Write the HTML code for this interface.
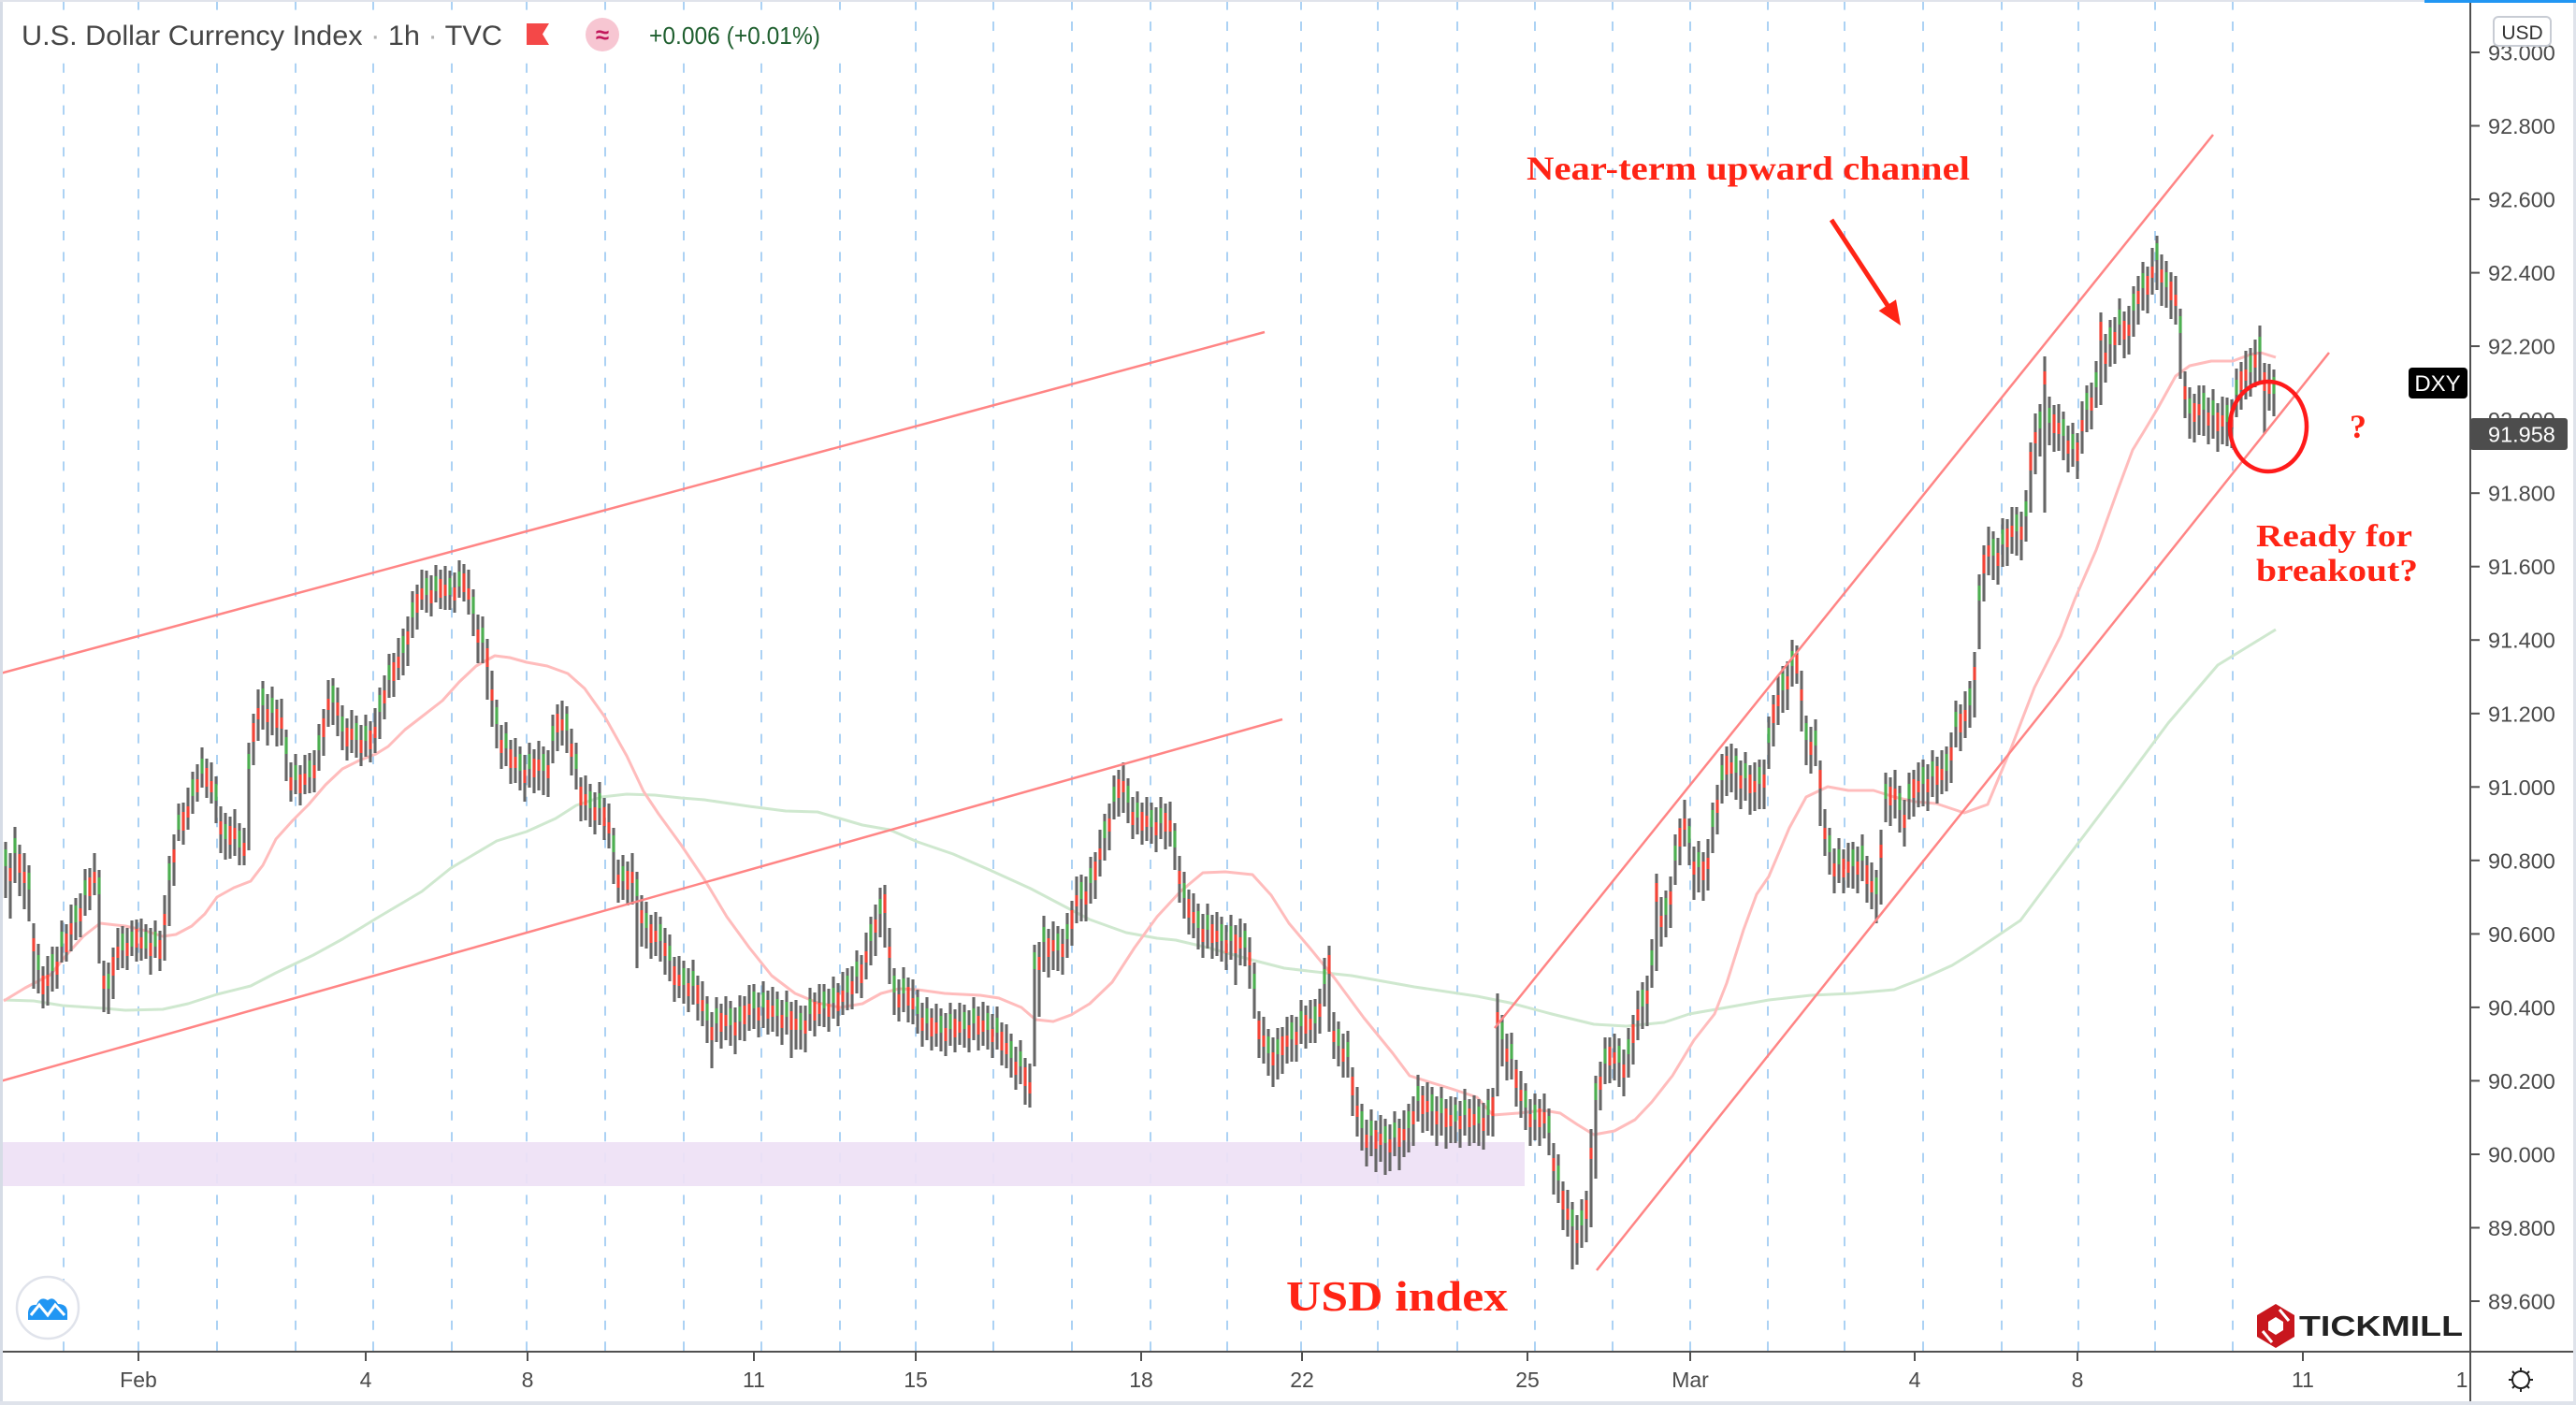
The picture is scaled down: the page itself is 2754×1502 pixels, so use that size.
<!DOCTYPE html>
<html><head><meta charset="utf-8">
<style>
html,body{margin:0;padding:0;background:#fff;width:2754px;height:1502px;overflow:hidden}
svg{display:block}
text{font-family:"Liberation Sans",Arial,sans-serif}
.sf{font-family:"Liberation Serif","Times New Roman",serif;font-weight:bold;fill:#ff2415}
.pl{font-size:23.5px;fill:#4a4a4a}
.tl{font-size:23px;fill:#4a4a4a;text-anchor:middle}
</style></head><body>
<svg width="2754" height="1502" viewBox="0 0 2754 1502" xmlns="http://www.w3.org/2000/svg" xmlns:xlink="http://www.w3.org/1999/xlink">
<defs>
<path id="b0" d="M6 900V960M31 925V985M56 1012V1060M81 960V1005M106 930V1030M131 990V1035M156 988V1025M181 915V990M206 825V870M231 830V880M256 880V925M281 728V780M306 780V835M331 805V848M356 725V775M381 765V810M406 735V790M431 672V722M456 610V655M481 610V652M506 630V680M531 748V800M556 798V845M581 798V850M606 755V805M631 838V884M656 885V945M681 932V1035M706 980V1028M731 1027V1073M756 1065V1115M781 1070V1118M806 1052V1100M831 1060V1108M856 1075V1122M881 1052V1098M906 1035V1080M931 980V1032M956 1035V1085M981 1058V1105M1006 1078V1124M1031 1074V1120M1056 1075V1122M1081 1105V1152M1106 1010V1140M1131 990V1038M1156 935V985M1181 870V920M1206 832V880M1231 858V902M1256 880V930M1281 966V1015M1306 980V1028M1331 987V1033M1356 1100V1150M1381 1085V1135M1406 1068V1115M1431 1092V1140M1456 1180V1230M1481 1196V1256M1506 1180V1232M1531 1162V1214M1556 1173V1222M1581 1175V1225M1606 1085V1140M1631 1158V1208M1656 1185V1235M1681 1285V1357M1706 1150V1260M1731 1110V1162M1756 1050V1100M1781 952V1002M1806 875V925M1831 858V912M1856 800V855M1881 812V865M1906 712V762M1931 765V818M1956 885V935M1981 900V950M2006 930V987M2031 840V890M2056 812V862M2081 798V846M2106 728V778M2131 568V620M2156 542V594M2181 432V488M2206 440V492M2231 412V462M2256 342V392M2281 306V360M2306 252V310M2331 330V405M2356 412V466M2381 425V477M2406 372V424M2431 395V445"/>
<path id="b1" d="M11 905V975M36 980V1050M61 1005V1050M86 948V995M111 1020V1075M136 985V1030M161 985V1035M186 885V940M211 810V850M236 855V905M261 878V918M286 735V790M311 808V850M336 795V840M361 728V780M386 768V812M411 715V762M436 652V705M461 608V652M486 605V648M511 650V702M536 768V815M561 800V850M586 795V845M611 772V822M636 840V885M661 912V958M686 950V1005M711 985V1035M736 1028V1075M761 1075V1135M786 1070V1120M811 1054V1102M836 1062V1110M861 1068V1118M886 1050V1096M911 1026V1072M936 960V1015M961 1040V1085M986 1065V1112M1011 1076V1122M1036 1073V1118M1061 1077V1124M1086 1112V1158M1111 1000V1080M1136 986V1035M1161 930V978M1186 852V902M1211 845V890M1236 856V904M1261 908V958M1286 970V1017M1311 982V1030M1336 995V1050M1361 1102V1155M1386 1080V1128M1411 1050V1098M1436 1098V1145M1461 1190V1240M1486 1195V1245M1511 1165V1218M1536 1165V1218M1561 1170V1220M1586 1172V1222M1611 1098V1148M1636 1168V1218M1661 1215V1270M1686 1292V1345M1711 1128V1180M1736 1115V1165M1761 1036V1090M1786 930V985M1811 898V955M1836 832V885M1861 806V858M1886 805V858M1911 700V752M1936 770V820M1961 900V948M1986 898V948M2011 880V960M2036 848V898M2061 810V860M2086 776V830M2111 690V760M2136 568V618M2161 540V592M2186 374V541M2211 448V498M2236 402V452M2261 332V382M2286 288V340M2311 265V320M2336 390V440M2361 418V468M2386 420V472M2411 356V407"/>
<path id="b2" d="M16 890V950M41 1015V1068M66 990V1035M91 935V985M116 1035V1090M141 990V1028M166 990V1030M191 865V905M216 805V848M241 875V925M266 800V915M291 740V792M316 812V855M341 780V830M366 760V808M391 770V815M416 705V752M441 638V688M466 610V650M491 605V645M516 665V715M541 778V825M566 800V848M591 770V822M616 800V850M641 842V888M666 920V968M691 970V1020M716 1005V1055M741 1032V1080M766 1072V1120M791 1070V1118M816 1055V1105M841 1065V1112M866 1062V1108M891 1050V1095M916 1022V1068M941 955V1008M966 1040V1088M991 1072V1118M1016 1078V1124M1041 1072V1118M1066 1082V1128M1091 1118V1165M1116 985V1045M1141 982V1030M1166 922V972M1191 835V882M1216 852V898M1241 858V903M1266 938V988M1291 972V1020M1316 984V1032M1341 1035V1095M1366 1105V1160M1391 1075V1122M1416 1030V1082M1441 1108V1158M1466 1192V1242M1491 1194V1242M1516 1155V1205M1541 1168V1220M1566 1170V1220M1591 1170V1220M1616 1110V1160M1641 1175V1225M1666 1240V1292M1691 1288V1340M1716 1115V1165M1741 1105V1158M1766 1010V1062M1791 898V952M1816 905V960M1841 812V865M1866 810V862M1891 772V828M1916 690V740M1941 775V825M1966 902V950M1991 898V948M2016 832V885M2041 832V882M2066 808V858M2091 755V805M2116 620V700M2141 560V612M2166 530V585M2191 430V482M2216 458V505M2241 392V442M2266 325V375M2291 286V338M2316 285V335M2341 420V475M2366 422V475M2391 400V452M2416 354V415"/>
<path id="b3" d="M21 900V955M46 1030V1075M71 985V1025M96 925V970M121 1010V1065M146 980V1025M171 992V1035M196 855V900M221 808V850M246 870V915M271 760V815M296 745V795M321 815V858M346 755V805M371 765V810M396 768V812M421 695V742M446 622V670M471 606V648M496 600V640M521 680V745M546 788V835M571 798V845M596 750V800M621 828V875M646 850V895M671 918V965M696 975V1022M721 1020V1068M746 1040V1088M771 1070V1118M796 1062V1110M821 1056V1103M846 1068V1128M871 1058V1105M896 1048V1094M921 1018V1064M946 943V1010M971 1042V1090M996 1075V1120M1021 1076V1122M1046 1073V1120M1071 1090V1136M1096 1128V1178M1121 990V1042M1146 960V1008M1171 908V958M1196 820V870M1221 855V900M1246 856V905M1271 948V996M1296 975V1022M1321 986V1050M1346 1078V1128M1371 1095V1145M1396 1072V1118M1421 1008V1100M1446 1138V1190M1471 1195V1250M1496 1193V1248M1521 1158V1208M1546 1172V1225M1571 1172V1222M1596 1160V1212M1621 1130V1180M1646 1172V1222M1671 1260V1312M1696 1270V1325M1721 1106V1155M1746 1082V1135M1771 931V1035M1796 872V922M1821 908V960M1846 795V848M1871 815V868M1896 740V795M1921 687V728M1946 810V880M1971 905V952M1996 912V962M2021 828V880M2046 820V870M2071 806V856M2096 750V800M2121 580V640M2146 552V602M2171 470V545M2196 430V480M2221 460V509M2246 331V430M2271 330V380M2296 282V332M2321 288V338M2346 418V470M2371 428V480M2396 384V435M2421 385V461"/>
<path id="b4" d="M26 915V975M51 1025V1078M76 970V1020M101 915V960M126 995V1040M151 985V1030M176 960V1030M201 845V890M226 818V862M251 868V918M276 740V795M301 750V800M326 810V852M351 730V780M376 762V808M401 760V808M426 685V730M451 612V655M476 608V655M501 612V660M526 720V780M551 792V840M576 795V848M601 752V800M626 832V880M651 862V910M676 915V970M701 978V1025M726 1025V1070M751 1052V1100M776 1068V1115M801 1056V1105M826 1058V1106M851 1072V1125M876 1055V1100M901 1042V1088M926 1000V1050M951 995V1055M976 1050V1098M1001 1076V1122M1026 1075V1120M1051 1074V1121M1076 1098V1145M1101 1140V1187M1126 988V1040M1151 940V990M1176 890V940M1201 818V872M1226 855V902M1251 860V908M1276 958V1006M1301 978V1025M1326 985V1035M1351 1090V1140M1376 1090V1140M1401 1072V1118M1426 1085V1135M1451 1165V1218M1476 1195V1245M1501 1190V1240M1526 1160V1212M1551 1175V1225M1576 1174V1225M1601 1065V1175M1626 1148V1198M1651 1172V1220M1676 1275V1325M1701 1210V1315M1726 1108V1158M1751 1062V1115M1776 962V1015M1801 858V908M1826 900V955M1851 798V850M1876 818V870M1901 726V778M1926 720V785M1951 868V918M1976 904V952M2001 925V975M2026 826V878M2051 818V866M2076 805V852M2101 742V792M2126 566V618M2151 545V595M2176 445V510M2201 435V485M2226 432V488M2251 360V412M2276 330V382M2301 268V318M2326 298V350M2351 415V468M2376 427V478M2401 378V430M2426 392V442"/>
</defs>
<rect width="2754" height="1502" fill="#fff"/>
<g stroke="#acd2f4" stroke-width="2" stroke-dasharray="10 12.4" stroke-dashoffset="-0.6">
<line x1="68" y1="0" x2="68" y2="1444"/><line x1="148" y1="0" x2="148" y2="1444"/><line x1="232" y1="0" x2="232" y2="1444"/><line x1="316" y1="0" x2="316" y2="1444"/><line x1="399" y1="0" x2="399" y2="1444"/><line x1="483" y1="0" x2="483" y2="1444"/><line x1="563" y1="0" x2="563" y2="1444"/><line x1="647" y1="0" x2="647" y2="1444"/><line x1="731" y1="0" x2="731" y2="1444"/><line x1="814" y1="0" x2="814" y2="1444"/><line x1="898" y1="0" x2="898" y2="1444"/><line x1="979" y1="0" x2="979" y2="1444"/><line x1="1062" y1="0" x2="1062" y2="1444"/><line x1="1146" y1="0" x2="1146" y2="1444"/><line x1="1230" y1="0" x2="1230" y2="1444"/><line x1="1312" y1="0" x2="1312" y2="1444"/><line x1="1391" y1="0" x2="1391" y2="1444"/><line x1="1473" y1="0" x2="1473" y2="1444"/><line x1="1558" y1="0" x2="1558" y2="1444"/><line x1="1641" y1="0" x2="1641" y2="1444"/><line x1="1724" y1="0" x2="1724" y2="1444"/><line x1="1807" y1="0" x2="1807" y2="1444"/><line x1="1890" y1="0" x2="1890" y2="1444"/><line x1="1972" y1="0" x2="1972" y2="1444"/><line x1="2056" y1="0" x2="2056" y2="1444"/><line x1="2140" y1="0" x2="2140" y2="1444"/><line x1="2222" y1="0" x2="2222" y2="1444"/><line x1="2304" y1="0" x2="2304" y2="1444"/><line x1="2387" y1="0" x2="2387" y2="1444"/>
</g>
<rect x="0" y="1221" width="1630" height="47" fill="#eee1f5" opacity="0.92"/>
<polyline fill="none" stroke="#cfe8cf" stroke-width="3" stroke-linejoin="round" points="4,1069 36,1070 67,1075 112,1078 134,1080 174,1079 201,1073 232,1063 268,1054 295,1040 335,1021 366,1004 402,982 429,966 451,953 482,928 504,915 531,899 563,889 594,875 616,861 643,852 670,849 700,850 728,853 753,855 801,862 840,867 874,868 898,875 922,882 951,887 981,900 1019,913 1058,930 1102,950 1140,970 1165,983 1204,997 1237,1003 1257,1005 1291,1013 1334,1025 1373,1035 1407,1039 1445,1043 1512,1055 1579,1065 1614,1072 1659,1084 1704,1095 1739,1097 1779,1093 1806,1084 1846,1077 1891,1069 1936,1064 1980,1062 2025,1058 2056,1046 2087,1032 2108,1019 2160,984 2213,913 2266,843 2318,773 2371,711 2433,673"/>
<polyline fill="none" stroke="#ffbcbc" stroke-width="3" stroke-linejoin="round" points="4,1070 27,1056 54,1042 71,1021 89,1001 107,987 134,990 152,994 174,1001 188,999 205,990 219,977 232,959 250,949 268,942 281,925 295,897 313,877 330,860 348,839 366,822 384,813 402,806 415,798 433,780 446,770 473,749 491,729 509,712 529,701 545,703 563,708 585,712 607,720 625,736 647,767 670,808 688,846 704,870 728,903 753,940 777,980 801,1013 825,1043 850,1062 874,1072 898,1077 922,1073 942,1062 961,1057 981,1058 1010,1062 1048,1064 1068,1067 1092,1077 1107,1090 1126,1092 1145,1085 1165,1073 1189,1050 1213,1013 1237,980 1262,953 1286,933 1310,932 1339,935 1359,957 1378,987 1400,1013 1427,1046 1458,1088 1489,1126 1507,1150 1529,1157 1552,1164 1579,1173 1596,1192 1623,1190 1650,1187 1668,1190 1686,1202 1704,1213 1726,1209 1748,1197 1766,1178 1788,1150 1811,1112 1833,1084 1846,1051 1864,994 1878,956 1891,937 1913,885 1931,852 1954,841 1976,845 2003,845 2025,852 2047,857 2070,859 2100,869 2125,860 2150,800 2175,735 2203,680 2218,641 2241,588 2264,524 2280,481 2291,463 2306,438 2326,402 2341,391 2364,386 2387,386 2406,379 2417,377 2433,382"/>
<!-- candles -->
<g fill="none" stroke-width="3.1">
<use href="#b0" xlink:href="#b0" stroke="#666666"/>
<use href="#b0" xlink:href="#b0" stroke="#4caf50" stroke-dasharray="0 8 18 3000"/>
<use href="#b1" xlink:href="#b1" stroke="#666666" transform="translate(0,7)"/>
<use href="#b1" xlink:href="#b1" stroke="#f44336" stroke-dasharray="0 16 14 3000" transform="translate(0,7)"/>
<use href="#b2" xlink:href="#b2" stroke="#666666" transform="translate(0,-6)"/>
<use href="#b2" xlink:href="#b2" stroke="#4caf50" stroke-dasharray="0 12 16 3000" transform="translate(0,-6)"/>
<use href="#b3" xlink:href="#b3" stroke="#666666" transform="translate(0,3)"/>
<use href="#b3" xlink:href="#b3" stroke="#f44336" stroke-dasharray="0 10 20 3000" transform="translate(0,3)"/>
<use href="#b4" xlink:href="#b4" stroke="#666666" transform="translate(0,-3)"/>
<use href="#b4" xlink:href="#b4" stroke="#f44336" stroke-dasharray="0 20 12 3000" transform="translate(0,-3)"/>
</g>
<g stroke="#ff8585" stroke-width="2.5" fill="none">
<line x1="0" y1="720" x2="1352" y2="355"/>
<line x1="0" y1="1156" x2="1371" y2="769"/>
<line x1="1598" y1="1099" x2="2366" y2="144"/>
<line x1="1707" y1="1358" x2="2490" y2="377"/>
</g>
<!-- annotations -->
<text class="sf" x="1632" y="192" font-size="36" textLength="474" lengthAdjust="spacingAndGlyphs">Near-term upward channel</text>
<line x1="1958" y1="235" x2="2019" y2="328" stroke="#ff2415" stroke-width="5"/>
<polygon points="2032,348 2008.6,332.2 2027,320.2" fill="#ff2415"/>
<ellipse cx="2425" cy="456" rx="41" ry="48" fill="none" stroke="#ff1a1a" stroke-width="4.5"/>
<text class="sf" x="2521" y="468" font-size="36" text-anchor="middle">?</text>
<text class="sf" x="2412" y="584" font-size="34" textLength="167" lengthAdjust="spacingAndGlyphs">Ready for</text>
<text class="sf" x="2412" y="621" font-size="34" textLength="173" lengthAdjust="spacingAndGlyphs">breakout?</text>
<text class="sf" x="1375" y="1401" font-size="45" textLength="237" lengthAdjust="spacingAndGlyphs">USD index</text>
<!-- header -->
<rect x="0" y="13" width="915" height="51" fill="#fff"/>
<text x="23" y="48" font-size="30" fill="#454545" textLength="514" lengthAdjust="spacingAndGlyphs">U.S. Dollar Currency Index <tspan fill="#b0b0b0">·</tspan> 1h <tspan fill="#b0b0b0">·</tspan> TVC</text>
<polygon points="563,25 587,25 580,36.5 587,48 563,48" fill="#f44848"/>
<circle cx="644" cy="37" r="18" fill="#f7c6d2"/>
<text x="644" y="46" font-size="26" fill="#c2185b" text-anchor="middle" font-weight="bold">≈</text>
<text x="694" y="47" font-size="26" fill="#1f5f2f" textLength="183" lengthAdjust="spacingAndGlyphs">+0.006 (+0.01%)</text>
<!-- logos -->
<circle cx="51" cy="1398" r="33" fill="#fff" stroke="#e0e3eb" stroke-width="2.5"/>
<path d="M30 1411 L30 1403 Q31 1394 39 1395 Q43 1385 51 1390 Q57 1385 62 1394 Q72 1394 72 1403 L72 1411 Z" fill="#2196f3"/>
<polyline points="33,1406 42,1395 51,1406 59,1395 69,1406" fill="none" stroke="#fff" stroke-width="3"/>
<polygon points="2433,1394 2453,1406 2453,1429 2433,1441 2413,1429 2413,1406" fill="#c8161d"/>
<polygon points="2433,1408 2441,1413 2441,1422 2433,1427 2425,1422 2425,1413" fill="#fff"/>
<line x1="2437" y1="1400" x2="2447" y2="1412" stroke="#fff" stroke-width="3"/>
<line x1="2419" y1="1423" x2="2429" y2="1435" stroke="#fff" stroke-width="3"/>
<text x="2458" y="1428" font-size="31" font-weight="bold" fill="#222" textLength="175" lengthAdjust="spacingAndGlyphs">TICKMILL</text>
<!-- axes -->
<line x1="0" y1="1445" x2="2754" y2="1445" stroke="#505050" stroke-width="2"/>
<line x1="2641" y1="0" x2="2641" y2="1502" stroke="#505050" stroke-width="2"/>
<g stroke="#505050" stroke-width="2">
<line x1="2641" y1="56" x2="2651" y2="56"/><line x1="2641" y1="134.5" x2="2651" y2="134.5"/><line x1="2641" y1="213.1" x2="2651" y2="213.1"/><line x1="2641" y1="291.6" x2="2651" y2="291.6"/><line x1="2641" y1="370.1" x2="2651" y2="370.1"/><line x1="2641" y1="448.7" x2="2651" y2="448.7"/><line x1="2641" y1="527.2" x2="2651" y2="527.2"/><line x1="2641" y1="605.7" x2="2651" y2="605.7"/><line x1="2641" y1="684.2" x2="2651" y2="684.2"/><line x1="2641" y1="762.8" x2="2651" y2="762.8"/><line x1="2641" y1="841.3" x2="2651" y2="841.3"/><line x1="2641" y1="919.8" x2="2651" y2="919.8"/><line x1="2641" y1="998.4" x2="2651" y2="998.4"/><line x1="2641" y1="1076.9" x2="2651" y2="1076.9"/><line x1="2641" y1="1155.4" x2="2651" y2="1155.4"/><line x1="2641" y1="1234" x2="2651" y2="1234"/><line x1="2641" y1="1312.5" x2="2651" y2="1312.5"/><line x1="2641" y1="1391" x2="2651" y2="1391"/>
<line x1="148" y1="1446" x2="148" y2="1455"/><line x1="391" y1="1446" x2="391" y2="1455"/><line x1="564" y1="1446" x2="564" y2="1455"/><line x1="806" y1="1446" x2="806" y2="1455"/><line x1="979" y1="1446" x2="979" y2="1455"/><line x1="1220" y1="1446" x2="1220" y2="1455"/><line x1="1392" y1="1446" x2="1392" y2="1455"/><line x1="1633" y1="1446" x2="1633" y2="1455"/><line x1="1807" y1="1446" x2="1807" y2="1455"/><line x1="2047" y1="1446" x2="2047" y2="1455"/><line x1="2221" y1="1446" x2="2221" y2="1455"/><line x1="2462" y1="1446" x2="2462" y2="1455"/>
</g>
<text class="pl" x="2660" y="64.5">93.000</text><text class="pl" x="2660" y="143">92.800</text><text class="pl" x="2660" y="221.6">92.600</text><text class="pl" x="2660" y="300.1">92.400</text><text class="pl" x="2660" y="378.6">92.200</text><text class="pl" x="2660" y="457.2">92.000</text><text class="pl" x="2660" y="535.7">91.800</text><text class="pl" x="2660" y="614.2">91.600</text><text class="pl" x="2660" y="692.7">91.400</text><text class="pl" x="2660" y="771.3">91.200</text><text class="pl" x="2660" y="849.8">91.000</text><text class="pl" x="2660" y="928.3">90.800</text><text class="pl" x="2660" y="1006.9">90.600</text><text class="pl" x="2660" y="1085.4">90.400</text><text class="pl" x="2660" y="1163.9">90.200</text><text class="pl" x="2660" y="1242.5">90.000</text><text class="pl" x="2660" y="1321">89.800</text><text class="pl" x="2660" y="1399.5">89.600</text>
<text class="tl" x="148" y="1483">Feb</text><text class="tl" x="391" y="1483">4</text><text class="tl" x="564" y="1483">8</text><text class="tl" x="806" y="1483">11</text><text class="tl" x="979" y="1483">15</text><text class="tl" x="1220" y="1483">18</text><text class="tl" x="1392" y="1483">22</text><text class="tl" x="1633" y="1483">25</text><text class="tl" x="1807" y="1483">Mar</text><text class="tl" x="2047" y="1483">4</text><text class="tl" x="2221" y="1483">8</text><text class="tl" x="2462" y="1483">11</text><text class="tl" x="2632" y="1483">1</text>
<!-- labels on axis -->
<rect x="2575" y="393" width="63" height="33" rx="4" fill="#000"/>
<text x="2606" y="418" font-size="24" fill="#fff" text-anchor="middle">DXY</text>
<rect x="2641" y="447" width="104" height="34" rx="3" fill="#4d4d4d"/>
<text x="2660" y="472.5" font-size="23.5" fill="#fff">91.958</text>
<rect x="2666" y="18" width="61" height="31" rx="5" fill="#fff" stroke="#c8ccd4" stroke-width="2"/>
<text x="2696.5" y="42" font-size="21" fill="#333" text-anchor="middle">USD</text>
<!-- gear -->
<g stroke="#222" stroke-width="2" fill="none">
<circle cx="2695" cy="1475" r="9"/>
<line x1="2695" y1="1462" x2="2695" y2="1466"/><line x1="2695" y1="1484" x2="2695" y2="1488"/>
<line x1="2682" y1="1475" x2="2686" y2="1475"/><line x1="2704" y1="1475" x2="2708" y2="1475"/>
<line x1="2686" y1="1466" x2="2688.5" y2="1468.5"/><line x1="2704" y1="1466" x2="2701.5" y2="1468.5"/>
<line x1="2686" y1="1484" x2="2688.5" y2="1481.5"/><line x1="2704" y1="1484" x2="2701.5" y2="1481.5"/>
</g>
<!-- frame -->
<rect x="0" y="0" width="3" height="1502" fill="#d6dce6"/>
<rect x="0" y="1498" width="2754" height="4" fill="#dfe3eb"/>
<rect x="2751" y="0" width="3" height="1502" fill="#dfe3eb"/>
<rect x="0" y="0" width="2754" height="2" fill="#e0e3eb"/>
<rect x="2592" y="0" width="162" height="3" fill="#2196f3"/>
</svg>
</body></html>
